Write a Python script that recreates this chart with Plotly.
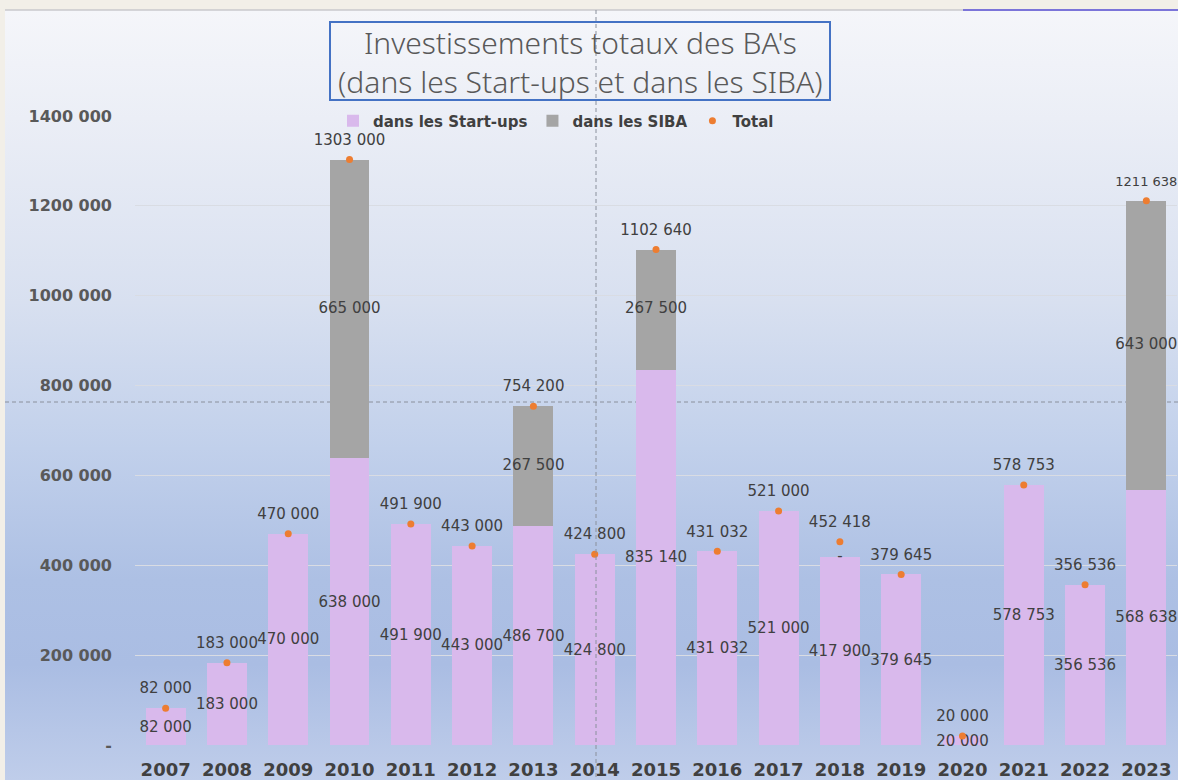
import base64
import plotly.graph_objects as go

# ---------------- data ----------------
years = ["2007", "2008", "2009", "2010", "2011", "2012", "2013", "2014", "2015",
         "2016", "2017", "2018", "2019", "2020", "2021", "2022", "2023"]
startups = [82000, 183000, 470000, 638000, 491900, 443000, 486700, 424800, 835140,
            431032, 521000, 417900, 379645, 20000, 578753, 356536, 568638]
siba = [None, None, None, 665000, None, None, 267500, None, 267500,
        None, None, 0, None, None, None, None, 643000]
totals = [82000, 183000, 470000, 1303000, 491900, 443000, 754200, 424800, 1102640,
          431032, 521000, 452418, 379645, 20000, 578753, 356536, 1211638]
ytick_vals = [0, 200000, 400000, 600000, 800000, 1000000, 1200000, 1400000]
ytick_text = ["-", "200 000", "400 000", "600 000", "800 000",
              "1000 000", "1200 000", "1400 000"]
title_text = "Investissements totaux des BA's<br>(dans les Start-ups et dans les SIBA)"


def fmt(v):
    # as displayed in the source: "82 000", "1303 000"
    if v is None:
        return ""
    if v == 0:
        return "-"
    parts = f"{v:,}".split(",")
    if len(parts) == 3:
        return parts[0] + parts[1] + " " + parts[2]
    return " ".join(parts)


# ---------------- geometry helpers (figure px -> paper) ----------------
W, H = 1178, 780
ML, MR, MT, MB = 135, 1, 116, 35
PW, PH = W - ML - MR, H - MT - MB


def px(x):
    return (x - ML) / PW


def py(y):
    return (H - MB - y) / PH


LABEL_FONT = dict(family="DejaVu Sans", size=15, color="#404040")
# last total label sits at the right edge of the chart: slightly smaller so it fits
total_label_sizes = [15] * (len(years) - 1) + [13]

# centre of each SIBA segment (stacked on the start-up value)
siba_mid = [None if b is None else s + b / 2 for s, b in zip(startups, siba)]

fig = go.Figure()
fig.add_trace(go.Bar(
    x=years, y=startups, name="dans les Start-ups",
    marker=dict(color="#D9B9EC", line=dict(width=0)),
    text=[fmt(v) for v in startups], textposition="inside",
    insidetextanchor="middle", textangle=0, constraintext="none",
    textfont=LABEL_FONT, insidetextfont=LABEL_FONT, cliponaxis=False,
    hoverinfo="skip"))
fig.add_trace(go.Bar(
    x=years, y=siba, name="dans les SIBA",
    marker=dict(color="#A5A5A5", line=dict(width=0)),
    hoverinfo="skip"))
fig.add_trace(go.Scatter(
    x=years, y=siba_mid, mode="text", showlegend=False,
    text=[fmt(v) for v in siba], textposition="middle center",
    textfont=LABEL_FONT, cliponaxis=False, hoverinfo="skip"))
fig.add_trace(go.Scatter(
    x=years, y=totals, name="Total", mode="markers",
    marker=dict(color="#ED7D31", size=7), cliponaxis=False, hoverinfo="skip"))
fig.add_trace(go.Scatter(
    x=years, y=totals, mode="markers+text", showlegend=False,
    marker=dict(color="rgba(0,0,0,0)", size=16),
    text=[fmt(v) for v in totals], textposition="top center",
    textfont=dict(family="DejaVu Sans", size=total_label_sizes, color="#404040"),
    cliponaxis=False, hoverinfo="skip"))

# gradient background via svg image
stops = [(0.0, "#f5f6fa"), (0.14, "#ebeef6"), (0.38, "#d8e0f0"), (0.57, "#c1d0eb"),
         (0.74, "#adc0e4"), (0.85, "#aabde3"), (1.0, "#bfcdea")]
stop_xml = "".join(f'<stop offset="{o}" stop-color="{c}"/>' for o, c in stops)
svg = ('<svg xmlns="http://www.w3.org/2000/svg" width="100" height="100" '
       'viewBox="0 0 100 100" preserveAspectRatio="none"><defs>'
       '<linearGradient id="g" x1="0" y1="0" x2="0" y2="1">' + stop_xml +
       '</linearGradient></defs><rect width="100" height="100" fill="url(#g)"/></svg>')
src = "data:image/svg+xml;base64," + base64.b64encode(svg.encode()).decode()

DASH = "4px,3px"

fig.update_layout(
    width=W, height=H,
    margin=dict(l=ML, r=MR, t=MT, b=MB, pad=0),
    paper_bgcolor="#f2efe8", plot_bgcolor="rgba(0,0,0,0)",
    barmode="stack", bargap=0.35,
    font=dict(family="DejaVu Sans", color="#404040"),
    showlegend=True,
    legend=dict(orientation="h", x=px(556), xanchor="center", y=py(121),
                yanchor="middle", traceorder="normal",
                font=dict(family="DejaVu Sans", size=15, color="#404040", weight="bold"),
                bgcolor="rgba(0,0,0,0)", itemwidth=30),
    xaxis=dict(type="category", range=[-0.5, len(years) - 0.5], autorange=False,
               automargin=False, showgrid=False, showline=False, zeroline=False,
               ticks="", ticklabelstandoff=12,
               tickfont=dict(family="DejaVu Sans", size=18, color="#404040", weight="bold")),
    yaxis=dict(range=[0, 1400000], autorange=False, tickvals=ytick_vals, ticktext=ytick_text,
               automargin=False, showgrid=True, gridcolor="#D9DCE3", gridwidth=1,
               zeroline=False, showline=False, ticks="", ticklabelstandoff=22,
               tickfont=dict(family="DejaVu Sans", size=16, color="#595959", weight="bold")),
    images=[dict(source=src, xref="paper", yref="paper", x=px(5), y=py(10),
                 sizex=(W - 5) / PW, sizey=(H - 10) / PH, xanchor="left",
                 yanchor="top", sizing="stretch", layer="below")],
    shapes=[
        dict(type="line", xref="paper", yref="paper", x0=px(5), x1=px(963),
             y0=py(10), y1=py(10), line=dict(color="#c9c9cc", width=1.5)),
        dict(type="line", xref="paper", yref="paper", x0=px(963), x1=px(1178),
             y0=py(10), y1=py(10), line=dict(color="#7b74d9", width=2)),
        dict(type="line", xref="paper", yref="paper", x0=px(5), x1=px(1178),
             y0=py(402), y1=py(402), layer="below",
             line=dict(color="#8a909c", width=1, dash=DASH)),
        dict(type="line", xref="paper", yref="paper", x0=px(596), x1=px(596),
             y0=py(10), y1=py(780), layer="above",
             line=dict(color="#8a909c", width=1, dash=DASH)),
        dict(type="rect", xref="paper", yref="paper", x0=px(330), x1=px(830),
             y0=py(100), y1=py(22), line=dict(color="#4472C4", width=2),
             fillcolor="rgba(0,0,0,0)"),
    ],
    annotations=[dict(text=title_text, xref="paper", yref="paper", x=px(580),
                      y=py(62), xanchor="center", yanchor="middle", showarrow=False,
                      font=dict(family="Noto Sans", size=30, color="#595959", weight=300))],
)

fig.write_html(
    "out.html",
    config={"displayModeBar": False},
    post_script="document.body.style.margin='0';document.body.style.overflow='hidden';")
